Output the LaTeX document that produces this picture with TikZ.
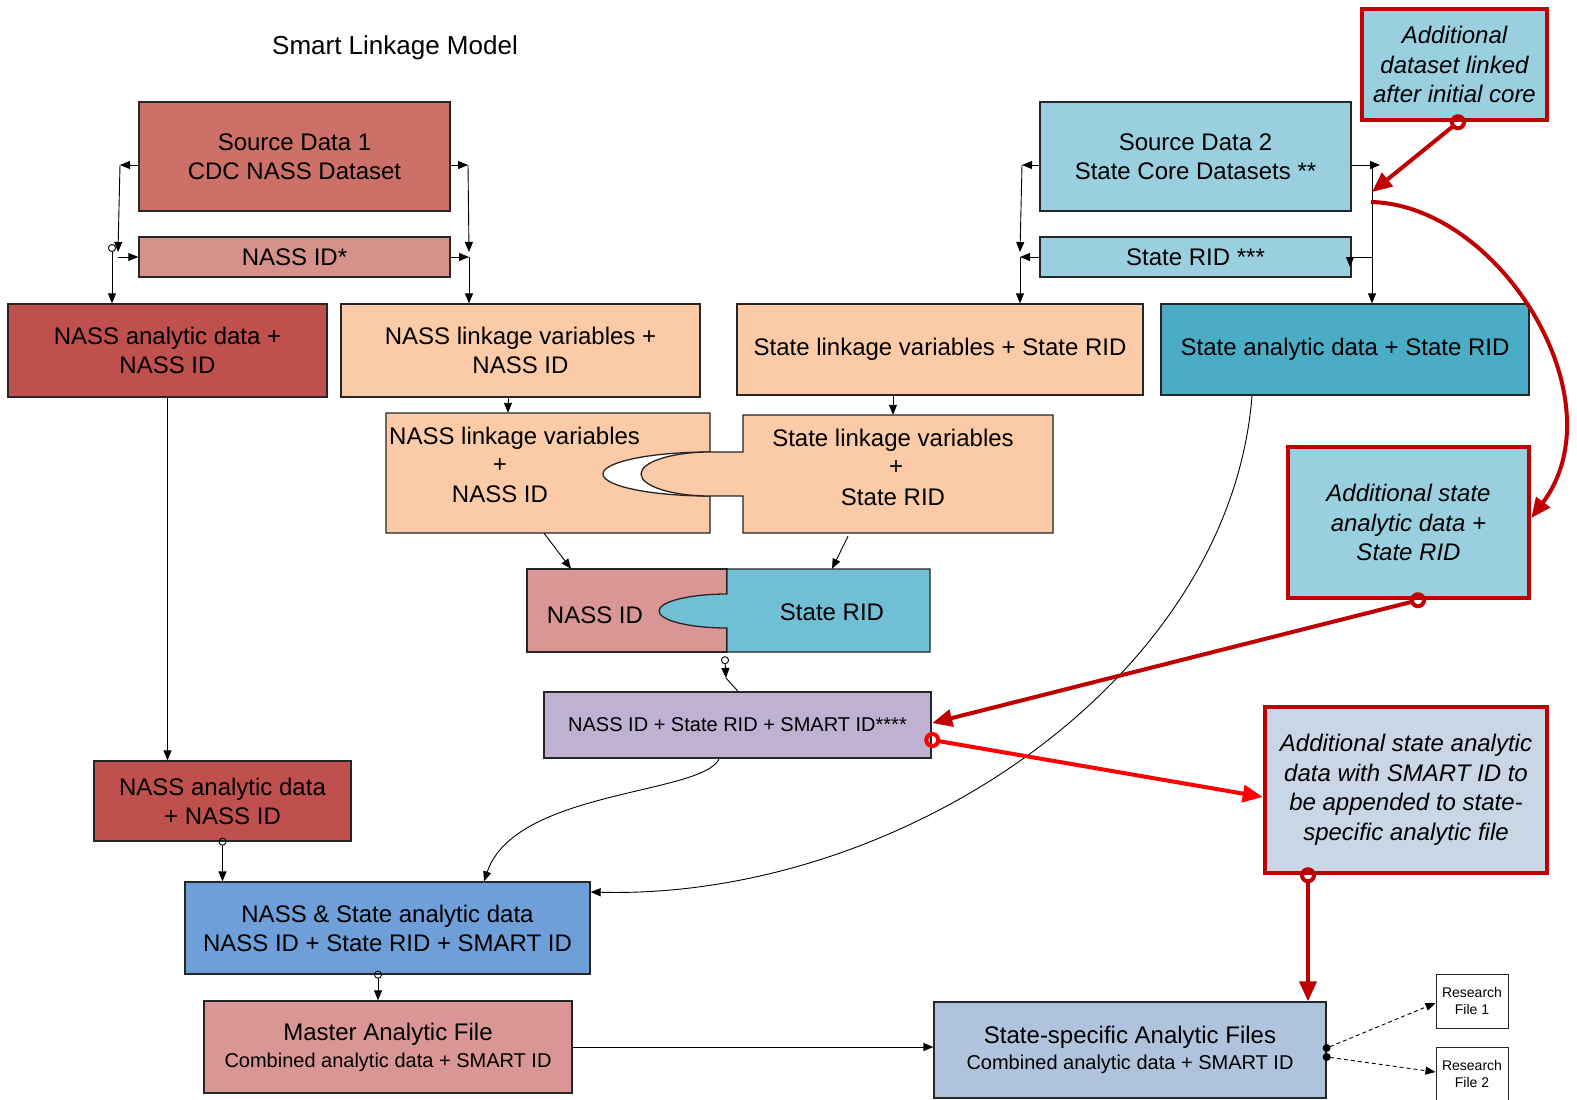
\documentclass[tikz,border=0pt]{standalone}
\usepackage{fontspec}
\setmainfont{Liberation Sans}
\usetikzlibrary{arrows.meta,calc}
\definecolor{cSrc}{HTML}{CD7068}
\definecolor{cNassID}{HTML}{D6918B}
\definecolor{cRose}{HTML}{D99694}
\definecolor{cDarkRed}{HTML}{C0504D}
\definecolor{cPeach}{HTML}{FACBA6}
\definecolor{cLtBlue}{HTML}{99CFDE}
\definecolor{cTeal}{HTML}{4BACC6}
\definecolor{cRid}{HTML}{70BFD4}
\definecolor{cPurple}{HTML}{BFB1D2}
\definecolor{cCombo}{HTML}{6F9FD8}
\definecolor{cSS}{HTML}{B0C3DC}
\definecolor{cGray}{HTML}{C9D6E6}
\definecolor{cAlert}{HTML}{C00000}
\definecolor{cBright}{HTML}{FF0000}
\begin{document}
\begin{tikzpicture}[x=1pt,y=-1pt,
  box/.style={draw=black!85, line width=1.3pt, inner sep=2pt, align=center, font=\fontsize{24}{29}\selectfont},
  redbox/.style={draw=cAlert, line width=4.5pt, inner sep=2pt, align=center, font=\fontsize{24}{29.5}\selectfont\itshape},
  pz/.style={draw=black!85, line width=1.3pt, fill=cPeach},
  txt/.style={font=\fontsize{24}{29}\selectfont, inner sep=0pt},
  conn/.style={draw=black, line width=0.9pt, -{Triangle[length=10pt,width=8pt]}},
  oconn/.style={conn, {Circle[open,length=8pt,width=8pt]}-{Triangle[length=10pt,width=8pt]}, shorten <=-4pt},
  redarr/.style={draw=cAlert, line width=4pt, -{Triangle[length=20pt,width=17pt]}},
  redo/.style={redarr, {Circle[open,length=16pt,width=16pt]}-{Triangle[length=20pt,width=17pt]}, shorten <=-8pt},
  dconn/.style={draw=black, line width=0.9pt, dash pattern=on 4pt off 3pt, {Circle[length=8pt,width=8pt]}-{Triangle[length=10pt,width=8pt]}, shorten <=-4pt}
]
\useasboundingbox (0,0) rectangle (1577,1100);
\fill[white] (0,0) rectangle (1577,1100);

% title
\node[anchor=base, font=\fontsize{26}{30}\selectfont] (title) at (395,54) {Smart Linkage Model};

% top boxes
\node[box, fill=cSrc, minimum width=311pt, minimum height=109pt] (src1) at (294.5,156.5) {Source Data 1\\CDC NASS Dataset};
\node[box, fill=cNassID, minimum width=311pt, minimum height=40pt] (nassid) at (294.5,257) {NASS ID*};
\node[box, fill=cLtBlue, minimum width=311pt, minimum height=109pt] (src2) at (1195.5,156.5) {Source Data 2\\State Core Datasets **};
\node[box, fill=cLtBlue, minimum width=311pt, minimum height=40pt] (rid) at (1195.5,257) {State RID ***};
\node[redbox, fill=cLtBlue, minimum width=185pt, minimum height=111pt] (add1) at (1454.5,64.5) {Additional\\dataset linked\\after initial core};

\node[box, fill=cDarkRed, minimum width=319pt, minimum height=93pt] (nassan) at (167.5,350.5) {NASS analytic data +\\NASS ID};
\node[box, fill=cPeach, minimum width=359pt, minimum height=93pt] (nasslk) at (520.5,350.5) {NASS linkage variables +\\NASS ID};
\node[box, fill=cPeach, minimum width=406pt, minimum height=91pt] (statelk) at (940,349.5) {State linkage variables + State RID};
\node[box, fill=cTeal, minimum width=368pt, minimum height=91pt] (statean) at (1345,349.5) {State analytic data + State RID};

\node[redbox, fill=cLtBlue, minimum width=241pt, minimum height=151pt] (add2) at (1408.5,522.5) {Additional state\\analytic data +\\State RID};

% puzzle pieces (linkage)
\draw[pz] (386,413) -- (710,413) -- (710,452) .. controls (650.9,452) and (603,461.85) .. (603,474) .. controls (603,486.15) and (650.9,496) .. (710,496) -- (710,533) -- (386,533) -- cycle;
\draw[pz] (743,415) -- (1053,415) -- (1053,533) -- (743,533) -- (743,496) -- (710,496) .. controls (671.9,496) and (641,486.15) .. (641,474) .. controls (641,461.85) and (671.9,452) .. (710,452) -- (743,452) -- cycle;
\node[inner sep=0pt, minimum width=324pt, minimum height=120pt] (nasspz) at (548,473) {};
\node[inner sep=0pt, minimum width=310pt, minimum height=118pt] (statepz) at (898,474) {};
\node[txt, anchor=base west] (nlv1) at (389,444) {NASS linkage variables};
\node[txt, anchor=base] (nlv2) at (500,472) {+};
\node[txt, anchor=base] (nlv3) at (500,502) {NASS ID};
\node[txt, anchor=base] (slv1) at (893,446) {State linkage variables};
\node[txt, anchor=base] (slv2) at (896,474) {+};
\node[txt, anchor=base] (slv3) at (893,505) {State RID};

% puzzle pieces (IDs)
\draw[pz, fill=cRose] (527,569) rectangle (727,652);
\draw[pz, fill=cRid] (727,569) -- (930,569) -- (930,652) -- (727,652) -- (727,628) .. controls (689.4,628) and (659,620.4) .. (659,611) .. controls (659,601.6) and (689.4,594) .. (727,594) -- cycle;
\node[inner sep=0pt, minimum width=403pt, minimum height=83pt] (botpz) at (728.5,610.5) {};
\node[txt, anchor=base] (bpn) at (595,623) {NASS ID};
\node[txt, anchor=base] (bps) at (832,620) {State RID};

\node[box, fill=cPurple, line width=2.5pt, minimum width=387pt, minimum height=66pt, font=\fontsize{20}{24}\selectfont] (purple) at (737.5,725) {NASS ID + State RID + SMART ID****};

\node[redbox, fill=cGray, minimum width=282pt, minimum height=166pt] (add3) at (1406,790) {Additional state analytic\\data with SMART ID to\\be appended to state-\\specific analytic file};

\node[box, fill=cDarkRed, minimum width=257pt, minimum height=80pt] (nassan2) at (222.5,801) {NASS analytic data\\+ NASS ID};
\node[box, fill=cCombo, minimum width=405pt, minimum height=92pt] (combo) at (387.5,928) {NASS \& State analytic data\\NASS ID + State RID + SMART ID};
\node[box, fill=cRose, minimum width=368pt, minimum height=92pt] (master) at (388,1047) {Master Analytic File\\[-2pt]{\fontsize{20}{24}\selectfont Combined analytic data + SMART ID}};
\node[box, fill=cSS, minimum width=392pt, minimum height=96pt] (statespec) at (1130,1050) {State-specific Analytic Files\\[-3pt]{\fontsize{20}{24}\selectfont Combined analytic data + SMART ID}};

\node[box, fill=white, line width=1pt, minimum width=72pt, minimum height=54pt, font=\fontsize{14}{17}\selectfont] (rf1) at (1472,1001) {Research\\File 1};
\node[box, fill=white, line width=1pt, minimum width=72pt, minimum height=54pt, font=\fontsize{14}{17}\selectfont] (rf2) at (1472,1074) {Research\\File 2};

% ---- black connectors around Source Data 1
\coordinate (s1L) at (120,165);
\coordinate (s1Ld) at (118,252);
\draw[conn] (src1.west |- s1L) -- (s1L);
\draw[conn] (s1L) -- (s1Ld);
\draw[conn] (s1Ld |- nassid.west) -- (nassid.west);
\coordinate (c1) at (112,248);
\draw[oconn] (c1) -- (c1 |- nassan.north);
\coordinate (s1R) at (468,165);
\coordinate (s1Rd) at (469,252);
\draw[conn] (src1.east |- s1R) -- (s1R);
\draw[conn] (s1R) -- (s1Rd);
\draw[conn] (nassid.east) -- (nassid.east -| s1Rd);
\draw[conn] (nassid.east -| s1Rd) -- (s1Rd |- nasslk.north);

% ---- black connectors around Source Data 2
\coordinate (s2L) at (1022,165);
\coordinate (s2Ld) at (1020,252);
\draw[conn] (src2.west |- s2L) -- (s2L);
\draw[conn] (s2L) -- (s2Ld);
\draw[conn] (rid.west) -- (rid.west -| s2Ld);
\draw[conn] (rid.west -| s2Ld) -- (s2Ld |- statelk.north);
\coordinate (s2R) at (1380,165);
\coordinate (s2V) at (1372,165);
\draw[conn] (src2.east |- s2R) -- (s2R);
\draw[conn] (s2V) -- (s2V |- statean.north);
\coordinate (ridtip) at (1350,267);
\draw[conn] (s2V |- rid.east) -| (ridtip);

% ---- data flow
\draw[conn] (nassan.south) -- (nassan.south |- nassan2.north);
\draw[oconn] (nassan2.south) -- (nassan2.south |- combo.north);
\path ([xshift=-12.5pt]nasslk.south) coordinate (a1);
\draw[conn] (a1) -- (a1 |- nasspz.north);
\path ([xshift=-47pt]statelk.south) coordinate (a2);
\draw[conn] (a2) -- (a2 |- statepz.north);
\draw[conn] ([xshift=-4pt]nasspz.south) -- ([xshift=-157.5pt]botpz.north);
\draw[conn] ([xshift=-50pt,yshift=-3pt]statepz.south) -- ([xshift=103.5pt]botpz.north);
\coordinate (bp) at (726,678);
\draw[oconn] ([xshift=-3.5pt,yshift=-8pt]botpz.south) -- (bp);
\draw[line width=0.9pt] (bp) -- (purple.north);
\draw[conn] ([xshift=-18.5pt]purple.south) .. controls (700,795) and (515,790) .. ([xshift=96.5pt]combo.north);
\draw[conn] ([xshift=-93pt]statean.south) .. controls (1230,680) and (900,900) .. ([yshift=36pt]combo.east);
\draw[oconn] ([xshift=-9.5pt]combo.south) -- ([xshift=-10pt]master.north);
\draw[conn] (master.east) -- (master.east -| statespec.west);

% ---- red connectors
\coordinate (r1end) at (1372,192);
\draw[redo] ([xshift=3.5pt]add1.south) -- (r1end);
\coordinate (r2start) at (1371,202);
\draw[redarr] (r2start) .. controls (1500,205) and (1620,400) .. ([yshift=4.5pt]add2.east);
\draw[redo] ([xshift=9.5pt]add2.south) -- ([yshift=2pt]purple.east);
\draw[redo, draw=cBright] ([yshift=-15pt]purple.east) -- ([yshift=-7pt]add3.west);
\draw[redo] ([xshift=-98pt]add3.south) -- ([xshift=178pt]statespec.north);

% ---- research files
\draw[dconn] ([yshift=2pt]statespec.east) -- ([yshift=-2pt]rf1.west);
\draw[dconn] ([yshift=-7pt]statespec.east) -- ([yshift=2pt]rf2.west);
\end{tikzpicture}
\end{document}
